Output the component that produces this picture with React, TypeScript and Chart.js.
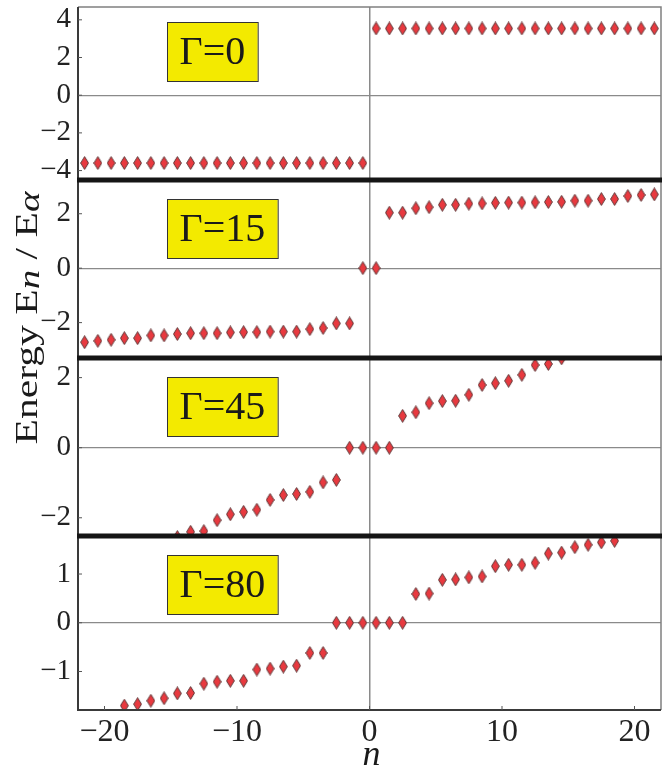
import React, { useEffect, useRef } from 'react';
import { Chart, registerables } from 'chart.js';

Chart.register(...registerables);

// ---------------- data ----------------
const nFull = [
  -21.5, -20.5, -19.5, -18.5, -17.5, -16.5, -15.5, -14.5, -13.5, -12.5, -11.5,
  -10.5, -9.5, -8.5, -7.5, -6.5, -5.5, -4.5, -3.5, -2.5, -1.5, -0.5,
  0.5, 1.5, 2.5, 3.5, 4.5, 5.5, 6.5, 7.5, 8.5, 9.5, 10.5,
  11.5, 12.5, 13.5, 14.5, 15.5, 16.5, 17.5, 18.5, 19.5, 20.5, 21.5,
];
const energyG0 = [
  -3.6, -3.6, -3.6, -3.6, -3.6, -3.6, -3.6, -3.6, -3.6, -3.6, -3.6,
  -3.6, -3.6, -3.6, -3.6, -3.6, -3.6, -3.6, -3.6, -3.6, -3.6, -3.6,
  3.54, 3.54, 3.54, 3.54, 3.54, 3.54, 3.54, 3.54, 3.54, 3.54, 3.54,
  3.54, 3.54, 3.54, 3.54, 3.54, 3.54, 3.54, 3.54, 3.54, 3.54, 3.54,
];
const energyG15 = [
  -2.72, -2.67, -2.63, -2.57, -2.57, -2.47, -2.47, -2.42, -2.39, -2.39, -2.39,
  -2.36, -2.35, -2.35, -2.33, -2.33, -2.33, -2.24, -2.2, -2.03, -2.03, 0,
  0, 2.04, 2.04, 2.2, 2.24, 2.33, 2.33, 2.37, 2.38, 2.4, 2.41,
  2.41, 2.42, 2.43, 2.44, 2.48, 2.48, 2.54, 2.54, 2.65, 2.69, 2.71,
];
const nG45 = [
  -14.5, -13.5, -12.5, -11.5, -10.5, -9.5, -8.5, -7.5, -6.5, -5.5, -4.5, -3.5, -2.5, -1.5, -0.5,
  0.5, 1.5, 2.5, 3.5, 4.5, 5.5, 6.5, 7.5, 8.5, 9.5, 10.5, 11.5, 12.5, 13.5, 14.5,
];
const energyG45 = [
  -2.55, -2.4, -2.38, -2.07, -1.9, -1.83, -1.77, -1.49, -1.35, -1.32, -1.26, -0.99, -0.92, 0, 0,
  0, 0, 0.91, 1.01, 1.27, 1.33, 1.34, 1.51, 1.79, 1.84, 1.91, 2.08, 2.36, 2.39, 2.55,
];
const nG80 = [
  -18.5, -17.5, -16.5, -15.5, -14.5, -13.5, -12.5, -11.5, -10.5, -9.5, -8.5, -7.5, -6.5, -5.5,
  -4.5, -3.5, -2.5, -1.5, -0.5, 0.5, 1.5, 2.5, 3.5, 4.5, 5.5, 6.5, 7.5, 8.5, 9.5, 10.5, 11.5,
  12.5, 13.5, 14.5, 15.5, 16.5, 17.5, 18.5,
];
const energyG80 = [
  -1.7, -1.67, -1.6, -1.55, -1.45, -1.44, -1.25, -1.21, -1.19, -1.19, -0.96, -0.94, -0.9, -0.88,
  -0.62, -0.62, 0, 0, 0, 0, 0, 0, 0.59, 0.6, 0.88, 0.89, 0.93, 0.95, 1.16, 1.19, 1.19,
  1.23, 1.42, 1.44, 1.55, 1.6, 1.65, 1.68,
];

const gammaLabels = ['Γ=0', 'Γ=15', 'Γ=45', 'Γ=80'];
const ticksG0 = [-4, -2, 0, 2, 4];
const ticksG15 = [-2, 0, 2];
const ticksG45 = [-2, 0, 2];
const ticksG80 = [-1, 0, 1];
const xTicks = [-20, -10, 0, 10, 20];
const rangeG0 = [-4.5, 4.68];
const rangeG15 = [-3.3, 3.24];
const rangeG45 = [-2.52, 2.56];
const rangeG80 = [-1.79, 1.78];
const xRange = [-22, 22];

// ---------------- helpers ----------------
const SERIF = '"Liberation Serif", "Times New Roman", Times, serif';
const fmt = (v: number) => (v < 0 ? '\u2212' + Math.abs(v) : String(v));

function makeDiamond() {
  const c = document.createElement('canvas');
  c.width = 9;
  c.height = 14;
  const g = c.getContext('2d')!;
  g.beginPath();
  g.moveTo(4.5, 0.6);
  g.lineTo(8.4, 7);
  g.lineTo(4.5, 13.4);
  g.lineTo(0.6, 7);
  g.closePath();
  g.fillStyle = '#e8393f';
  g.fill();
  g.strokeStyle = '#5e3a3a';
  g.lineWidth = 1;
  g.stroke();
  return c;
}

const gridColor = (c: any) => (c.tick && c.tick.value === 0 ? '#8a8a8a' : 'rgba(0,0,0,0)');

function yScale(range: number[], ticks: number[], weight: number) {
  return {
    type: 'linear',
    position: 'left',
    stack: 'E',
    stackWeight: weight,
    min: range[0],
    max: range[1],
    afterBuildTicks: (s: any) => {
      s.ticks = ticks.map((v) => ({ value: v }));
    },
    afterFit: (s: any) => {
      s.width = 78;
      s.paddingTop = 0;
      s.paddingBottom = 0;
    },
    grid: { drawTicks: false, color: gridColor, lineWidth: 1.2 },
    border: { display: false },
    ticks: {
      autoSkip: false,
      padding: 7,
      color: '#222',
      font: { family: SERIF, size: 29 },
      callback: (v: any) => fmt(Number(v)),
    },
  };
}

const decorPlugin = {
  id: 'decor',
  afterDraw(chart: any) {
    const ctx: CanvasRenderingContext2D = chart.ctx;
    const a = chart.chartArea;
    const panels = ['p1', 'p2', 'p3', 'p4'].map((k) => chart.scales[k]);
    const tickSets = [ticksG0, ticksG15, ticksG45, ticksG80];
    ctx.save();

    // frame
    ctx.strokeStyle = '#808080';
    ctx.lineWidth = 1.5;
    ctx.beginPath();
    ctx.moveTo(a.left, a.top);
    ctx.lineTo(a.right, a.top);
    ctx.lineTo(a.right, a.bottom);
    ctx.stroke();
    ctx.strokeStyle = '#3a3a3a';
    ctx.lineWidth = 2;
    ctx.beginPath();
    ctx.moveTo(a.left, a.top);
    ctx.lineTo(a.left, a.bottom);
    ctx.lineTo(a.right, a.bottom);
    ctx.stroke();

    // inward ticks
    ctx.strokeStyle = '#555';
    ctx.lineWidth = 1;
    panels.forEach((s, i) => {
      tickSets[i].forEach((v) => {
        const y = s.getPixelForValue(v);
        ctx.beginPath();
        ctx.moveTo(a.left, y);
        ctx.lineTo(a.left + 4, y);
        ctx.stroke();
      });
    });
    const xs = chart.scales.x;
    xTicks.forEach((v) => {
      const x = xs.getPixelForValue(v);
      ctx.beginPath();
      ctx.moveTo(x, a.bottom);
      ctx.lineTo(x, a.bottom - 4);
      ctx.stroke();
    });

    // thick separators
    ctx.fillStyle = '#151515';
    for (let i = 0; i < 3; i++) {
      const y = panels[i].bottom;
      ctx.fillRect(a.left - 1, y - 2.5, a.right - a.left + 2, 5);
    }

    // gamma boxes
    ctx.font = `40px ${SERIF}`;
    ctx.textAlign = 'center';
    ctx.textBaseline = 'middle';
    panels.forEach((s, i) => {
      const label = gammaLabels[i];
      const w = ctx.measureText(label).width + 25;
      const h = 59;
      const x0 = a.left + 89;
      const y0 = s.top + (i === 0 ? 15 : 19);
      ctx.fillStyle = '#f3ea00';
      ctx.fillRect(x0, y0, w, h);
      ctx.strokeStyle = '#333';
      ctx.lineWidth = 1;
      ctx.strokeRect(x0 + 0.5, y0 + 0.5, w, h);
      ctx.fillStyle = '#1a1a1a';
      ctx.fillText(label, x0 + w / 2, y0 + h / 2 + 2);
    });

    // y title (rotated)
    const segs: [string, string, number][] = [
      ['Energy ', `32px ${SERIF}`, 0],
      ['E', `32px ${SERIF}`, 0],
      ['n', `italic 30px ${SERIF}`, 2],
      [' / E', `32px ${SERIF}`, 0],
      ['\u03b1', `italic 30px ${SERIF}`, 2],
    ];
    ctx.save();
    ctx.translate(37, 318);
    ctx.rotate(-Math.PI / 2);
    ctx.scale(1.3, 1);
    ctx.textAlign = 'left';
    ctx.textBaseline = 'alphabetic';
    ctx.fillStyle = '#1a1a1a';
    let total = 0;
    const widths = segs.map(([t, f]) => {
      ctx.font = f;
      const w = ctx.measureText(t).width;
      total += w;
      return w;
    });
    let cx = -total / 2;
    segs.forEach(([t, f, dy], i) => {
      ctx.font = f;
      ctx.fillText(t, cx, dy);
      cx += widths[i];
    });
    ctx.restore();

    // x title
    ctx.font = `italic 36px ${SERIF}`;
    ctx.textAlign = 'center';
    ctx.textBaseline = 'alphabetic';
    ctx.fillStyle = '#1a1a1a';
    ctx.fillText('n', xs.getPixelForValue(0) + 2, 765);

    ctx.restore();
  },
};

export default function App() {
  const ref = useRef<HTMLCanvasElement | null>(null);

  useEffect(() => {
    if (!ref.current) return;
    const diamond = makeDiamond();
    const ds = (xsArr: number[], ys: number[], axis: string) => ({
      type: 'scatter',
      yAxisID: axis,
      data: xsArr.map((x, i) => ({ x, y: ys[i] })),
      pointStyle: diamond,
      pointRadius: 6,
      showLine: false,
      clip: 0,
    });
    const chart = new Chart(ref.current, {
      type: 'scatter',
      data: {
        datasets: [
          ds(nFull, energyG0, 'p1'),
          ds(nFull, energyG15, 'p2'),
          ds(nG45, energyG45, 'p3'),
          ds(nG80, energyG80, 'p4'),
        ] as any,
      },
      options: {
        animation: false,
        responsive: false,
        devicePixelRatio: 1,
        layout: { padding: { left: 0, top: 7, right: 7, bottom: 0 } },
        plugins: { legend: { display: false }, tooltip: { enabled: false } },
        scales: {
          x: {
            type: 'linear',
            min: xRange[0],
            max: xRange[1],
            afterBuildTicks: (s: any) => {
              s.ticks = xTicks.map((v) => ({ value: v }));
            },
            afterFit: (s: any) => {
              s.height = 59;
              s.paddingLeft = 0;
              s.paddingRight = 0;
            },
            grid: { drawTicks: false, color: gridColor, lineWidth: 1.5 },
            border: { display: false },
            ticks: {
              autoSkip: false,
              maxRotation: 0,
              padding: 3,
              color: '#222',
              font: { family: SERIF, size: 32 },
              callback: (v: any) => fmt(Number(v)),
            },
          },
          p4: yScale(rangeG80, ticksG80, 174),
          p3: yScale(rangeG45, ticksG45, 178),
          p2: yScale(rangeG15, ticksG15, 178),
          p1: yScale(rangeG0, ticksG0, 173),
        } as any,
      },
      plugins: [decorPlugin],
    });
    return () => chart.destroy();
  }, []);

  return (
    <canvas
      ref={ref}
      width={668}
      height={769}
      style={{ position: 'absolute', left: 0, top: 0, width: 668, height: 769 }}
    />
  );
}
